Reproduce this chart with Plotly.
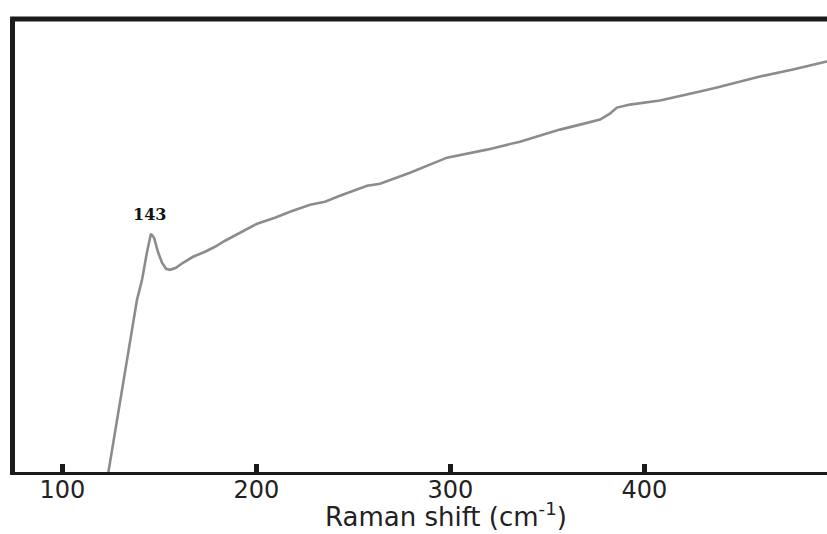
import plotly.graph_objects as go

# Raman shift (cm-1) and intensity (a.u.)
raman_shift = [122.4, 123.5, 138.4, 141.0, 143.6, 145.6, 147.2, 149.2, 151.3, 153.4,
               155.4, 158.5, 162.1, 167.3, 173.5, 178.6, 183.8, 191.5, 200.3, 209.5,
               217.3, 227.6, 235.3, 243.0, 257.0, 263.7, 279.1, 298.2, 318.8, 335.8,
               356.4, 366.8, 377.1, 382.2, 385.8, 392.5, 408.0, 428.6, 437.4, 459.5,
               476.5, 494.0, 497.0]
intensity = [-14, -2, 172, 192, 220, 238, 234, 220, 209, 203,
             202, 204, 209, 215, 220, 225, 231, 239, 248, 254,
             260, 267, 270, 276, 286, 288, 299, 314, 322, 330,
             342, 347, 352, 358, 364, 367, 371, 380, 384, 395,
             402, 410, 412]

tick_vals = [100, 200, 300, 400]
tick_text = ["100", "200", "300", "400"]
peak_label = "143"
peak_pos = (144.6, 257)

fig = go.Figure()
fig.add_trace(go.Scatter(x=raman_shift, y=intensity, mode="lines",
                         line=dict(color="#8c8c8c", width=2.6), showlegend=False))

fig.add_annotation(x=peak_pos[0], y=peak_pos[1], text="<b>" + peak_label + "</b>",
                   showarrow=False, font=dict(family="DejaVu Serif", size=16, color="#111"))

fig.add_annotation(x=297.7, xref="x", y=-0.1375, yref="paper", yanchor="bottom",
                   text="Raman shift (cm<sup>-1</sup>)", showarrow=False,
                   font=dict(family="DejaVu Sans", size=26, color="#222"))

# top frame line
fig.add_shape(type="line", xref="paper", yref="paper", x0=-0.006, x1=1, y0=1, y1=1,
              line=dict(color="#1a1a1a", width=5))

fig.update_layout(
    width=827, height=534,
    margin=dict(l=15, r=0, t=19, b=62),
    paper_bgcolor="white", plot_bgcolor="white",
    xaxis=dict(range=[75.52, 494.08], tickvals=tick_vals, ticktext=tick_text,
               ticks="inside", ticklen=8, tickwidth=5, tickcolor="#1a1a1a",
               ticklabelstandoff=-6,
               showline=True, linewidth=3, linecolor="#1a1a1a",
               showgrid=False, zeroline=False,
               tickfont=dict(family="DejaVu Sans", size=24, color="#222")),
    yaxis=dict(range=[0, 452.5], showline=True, linewidth=5, linecolor="#1a1a1a",
               showticklabels=False, ticks="", showgrid=False, zeroline=False),
)

fig.write_html("out.html")
